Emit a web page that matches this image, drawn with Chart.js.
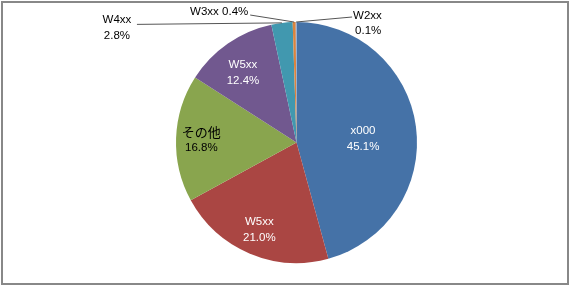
<!DOCTYPE html>
<html>
<head>
<meta charset="utf-8">
<script src="https://cdn.jsdelivr.net/npm/chart.js@4.4.0/dist/chart.umd.min.js"></script>
<style>
html,body{margin:0;padding:0;background:#fff;}
#wrap{position:relative;width:570px;height:286px;}
</style>
</head>
<body>
<div id="wrap"><canvas id="c" width="570" height="286"></canvas></div>
<script>
// Data
const categories = ['x000', 'W5xx', 'その他', 'W5xx', 'W4xx', 'W3xx', 'W2xx'];
const values = [45.1, 21.0, 16.8, 12.4, 2.8, 0.4, 0.1];
const percentLabels = values.map(v => v.toFixed(1) + '%');

const colors = ['#4572A7', '#AA4643', '#89A54E', '#71588F', '#4198AF', '#DB843D', '#93A9CF'];

const FONT = '11.5px "Liberation Sans", Arial, sans-serif';
const CJK = '13px "Noto Sans CJK JP", "Noto Sans CJK SC", sans-serif';

// label placement style (inside labels: radial fraction + angle tweak in degrees)
const inside = {
  0: {frac: 0.553, tweak: 4.7, color: '#ffffff'},
  1: {frac: 0.79, tweak: 0, color: '#ffffff'},
  2: {frac: 0.79, tweak: -0.5, color: '#000000'},
  3: {frac: 0.73, tweak: -2.8, color: '#ffffff'}
};

const borderPlugin = {
  id: 'frame',
  afterDraw(chart) {
    const ctx = chart.ctx;
    ctx.save();
    ctx.strokeStyle = '#888888';
    ctx.lineWidth = 2;
    ctx.strokeRect(2, 2, 566, 282);
    ctx.restore();
  }
};

function drawText(ctx, text, x, y, color) {
  const isCJK = /[\u3040-\u30ff\u4e00-\u9fff]/.test(text);
  ctx.font = isCJK ? CJK : FONT;
  ctx.fillStyle = color;
  ctx.fillText(text, x, y);
}

const labelPlugin = {
  id: 'sliceLabels',
  afterDatasetsDraw(chart) {
    const ctx = chart.ctx;
    const meta = chart.getDatasetMeta(0);
    ctx.save();
    ctx.textAlign = 'center';
    ctx.textBaseline = 'middle';
    meta.data.forEach((arc, i) => {
      const p = arc.getProps(['x', 'y', 'startAngle', 'endAngle', 'outerRadius'], true);
      const mid = (p.startAngle + p.endAngle) / 2;
      if (inside[i]) {
        const s = inside[i];
        const a = mid + s.tweak * Math.PI / 180;
        const r = p.outerRadius * s.frac;
        const cx = p.x + Math.cos(a) * r;
        const cy = p.y + Math.sin(a) * r;
        drawText(ctx, categories[i], cx, cy - 8, s.color);
        drawText(ctx, percentLabels[i], cx, cy + 8, s.color);
      } else {
        const ex = p.x + Math.cos(mid) * p.outerRadius;
        const ey = p.y + Math.sin(mid) * p.outerRadius;
        ctx.strokeStyle = '#555555';
        ctx.lineWidth = 1;
        ctx.beginPath();
        if (i === 4) {
          ctx.moveTo(ex - 145, ey + 1.5);
          ctx.lineTo(ex, ey);
          ctx.stroke();
          drawText(ctx, categories[i], ex - 165, ey - 3, '#000');
          drawText(ctx, percentLabels[i], ex - 165, ey + 13, '#000');
        } else if (i === 5) {
          ctx.moveTo(ex - 44, ey - 7);
          ctx.lineTo(ex, ey);
          ctx.stroke();
          drawText(ctx, categories[i] + ' ' + percentLabels[i], ex - 75, ey - 10, '#000');
        } else if (i === 6) {
          ctx.moveTo(ex + 56, ey - 5);
          ctx.lineTo(ex, ey);
          ctx.stroke();
          ctx.textAlign = 'left';
          drawText(ctx, categories[i], ex + 57, ey - 6, '#000');
          drawText(ctx, percentLabels[i], ex + 59, ey + 9, '#000');
          ctx.textAlign = 'center';
        }
      }
    });
    ctx.restore();
  }
};

new Chart(document.getElementById('c'), {
  type: 'pie',
  data: {
    labels: categories,
    datasets: [{
      data: values,
      backgroundColor: colors,
      borderWidth: 0
    }]
  },
  options: {
    responsive: false,
    animation: false,
    layout: { padding: { top: 22, bottom: 23, left: 23, right: 0 } },
    plugins: {
      legend: { display: false },
      tooltip: { enabled: false }
    }
  },
  plugins: [borderPlugin, labelPlugin]
});
</script>
</body>
</html>
